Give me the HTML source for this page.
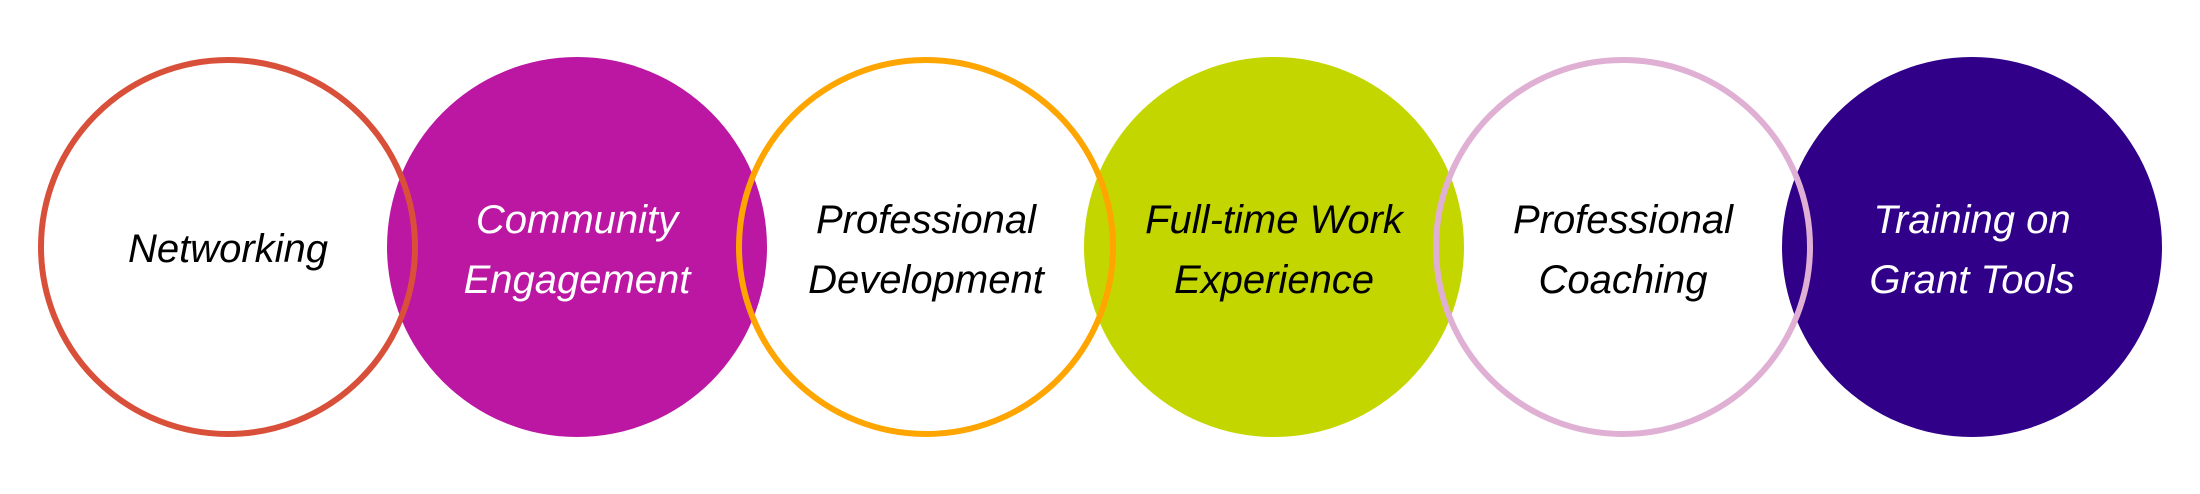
<!DOCTYPE html>
<html><head><meta charset="utf-8"><style>
html,body{margin:0;padding:0;background:#fff;}
svg text{font-family:"Liberation Sans",sans-serif;font-style:italic;font-size:40px;text-anchor:middle;}
</style></head><body>
<svg width="2200" height="489" viewBox="0 0 2200 489" xmlns="http://www.w3.org/2000/svg">
<rect width="2200" height="489" fill="#fff"/>
<circle cx="577" cy="247" r="190" fill="#bb17a2"/>
<circle cx="1274" cy="247" r="190" fill="#c4d600"/>
<circle cx="1972" cy="247" r="190" fill="#300088"/>
<circle cx="228" cy="247" r="187" fill="none" stroke="#d9503a" stroke-width="6"/>
<circle cx="926" cy="247" r="187" fill="none" stroke="#ffa500" stroke-width="6"/>
<circle cx="1623" cy="247" r="187" fill="none" stroke="#dfb0d3" stroke-width="6"/>
<text x="228" y="262" fill="#000">Networking</text>
<text x="577" y="233" fill="#fff">Community</text>
<text x="577" y="293" fill="#fff">Engagement</text>
<text x="926" y="233" fill="#000">Professional</text>
<text x="926" y="293" fill="#000">Development</text>
<text x="1274" y="233" fill="#000">Full-time Work</text>
<text x="1274" y="293" fill="#000">Experience</text>
<text x="1623" y="233" fill="#000">Professional</text>
<text x="1623" y="293" fill="#000">Coaching</text>
<text x="1972" y="233" fill="#fff">Training on</text>
<text x="1972" y="293" fill="#fff">Grant Tools</text>
</svg>
</body></html>
